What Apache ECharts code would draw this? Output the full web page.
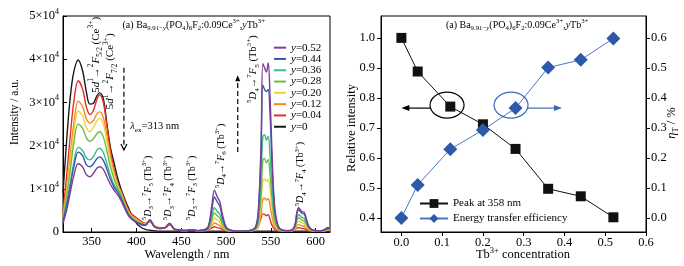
<!DOCTYPE html>
<html>
<head>
<meta charset="utf-8">
<script src="https://cdn.jsdelivr.net/npm/echarts@6/dist/echarts.min.js"></script>
<style>
  html, body { margin: 0; padding: 0; background: #fff; }
  #main { width: 684px; height: 266px; }
</style>
</head>
<body>
<div id="main"></div>
<script>
// emission spectra (intensity in units of 1e4)
var wavelength = [318, 322, 326, 330, 335, 340, 344, 348, 352, 356,
  359, 363, 367, 371, 375, 379, 383, 387, 391, 395,
  400, 405, 410, 415, 420, 426, 432, 437, 442, 448,
  455, 461, 468, 475, 480, 484, 487, 490, 493, 496,
  500, 505, 512, 520, 528, 533, 536, 539, 541, 543,
  545, 547, 549, 551, 554, 558, 563, 569, 574, 577,
  579, 581, 583, 585, 587, 589, 592, 596, 601, 606,
  610, 613, 616]
var specY000 = [0.9, 2.1, 3.1, 3.7, 3.98, 3.72, 3.25, 2.96, 2.98, 3.16,
  3.22, 3.08, 2.5, 1.95, 1.6, 1.25, 0.98, 0.76, 0.56, 0.38,
  0.2, 0.11, 0.06, 0.04, 0.03, 0.02, 0.02, 0.02, 0.02, 0.02,
  0.02, 0.02, 0.02, 0.02, 0.02, 0.02, 0.02, 0.02, 0.02, 0.02,
  0.02, 0.02, 0.02, 0.02, 0.02, 0.02, 0.02, 0.02, 0.02, 0.02,
  0.02, 0.02, 0.02, 0.02, 0.02, 0.02, 0.02, 0.02, 0.02, 0.02,
  0.02, 0.02, 0.02, 0.02, 0.02, 0.02, 0.02, 0.02, 0.02, 0.02,
  0.02, 0.02, 0.02]
var specY004 = [0.47, 1.3, 2.2, 3.0, 3.5, 3.3, 2.9, 2.72, 2.82, 3.08,
  3.17, 3.0, 2.45, 1.88, 1.45, 1.13, 0.93, 0.72, 0.52, 0.41,
  0.33, 0.25, 0.2, 0.24, 0.14, 0.1, 0.1, 0.16, 0.08, 0.05,
  0.04, 0.05, 0.03, 0.03, 0.05, 0.09, 0.12, 0.1, 0.09, 0.06,
  0.03, 0.02, 0.02, 0.02, 0.03, 0.06, 0.15, 0.32, 0.42, 0.41,
  0.38, 0.4, 0.3, 0.17, 0.07, 0.03, 0.02, 0.02, 0.03, 0.06,
  0.09, 0.1, 0.09, 0.08, 0.08, 0.06, 0.03, 0.02, 0.02, 0.02,
  0.03, 0.04, 0.04]
var specY012 = [0.38, 1.0, 1.75, 2.5, 3.03, 2.9, 2.62, 2.52, 2.58, 2.74,
  2.78, 2.65, 2.22, 1.75, 1.38, 1.1, 0.9, 0.68, 0.48, 0.37,
  0.29, 0.22, 0.19, 0.27, 0.14, 0.09, 0.1, 0.18, 0.07, 0.04,
  0.03, 0.05, 0.03, 0.03, 0.05, 0.14, 0.21, 0.18, 0.15, 0.09,
  0.04, 0.02, 0.02, 0.02, 0.03, 0.05, 0.11, 0.41, 0.76, 0.78,
  0.74, 0.77, 0.63, 0.4, 0.13, 0.05, 0.02, 0.02, 0.03, 0.06,
  0.14, 0.17, 0.16, 0.14, 0.14, 0.1, 0.05, 0.03, 0.02, 0.02,
  0.03, 0.04, 0.05]
var specY020 = [0.33, 0.9, 1.6, 2.3, 2.8, 2.68, 2.42, 2.32, 2.42, 2.58,
  2.63, 2.5, 2.1, 1.66, 1.33, 1.07, 0.88, 0.65, 0.46, 0.35,
  0.27, 0.21, 0.18, 0.29, 0.14, 0.09, 0.11, 0.2, 0.07, 0.04,
  0.03, 0.05, 0.03, 0.04, 0.06, 0.2, 0.32, 0.28, 0.23, 0.13,
  0.05, 0.03, 0.02, 0.02, 0.03, 0.05, 0.16, 0.64, 1.2, 1.23,
  1.17, 1.22, 1.0, 0.62, 0.21, 0.06, 0.03, 0.02, 0.03, 0.08,
  0.2, 0.25, 0.23, 0.21, 0.2, 0.15, 0.07, 0.03, 0.02, 0.02,
  0.03, 0.05, 0.06]
var specY028 = [0.3, 0.8, 1.4, 2.05, 2.5, 2.4, 2.18, 2.1, 2.16, 2.28,
  2.32, 2.2, 1.88, 1.5, 1.23, 1.02, 0.84, 0.62, 0.44, 0.33,
  0.25, 0.2, 0.17, 0.27, 0.13, 0.09, 0.1, 0.19, 0.07, 0.04,
  0.03, 0.05, 0.03, 0.04, 0.07, 0.28, 0.44, 0.38, 0.32, 0.18,
  0.06, 0.03, 0.02, 0.02, 0.03, 0.07, 0.22, 0.87, 1.65, 1.7,
  1.6, 1.68, 1.36, 0.85, 0.28, 0.08, 0.03, 0.02, 0.04, 0.11,
  0.27, 0.33, 0.3, 0.27, 0.26, 0.2, 0.09, 0.04, 0.02, 0.02,
  0.04, 0.06, 0.07]
var specY036 = [0.28, 0.65, 1.1, 1.6, 1.96, 1.88, 1.72, 1.67, 1.75, 1.9,
  1.94, 1.84, 1.58, 1.3, 1.1, 0.96, 0.8, 0.6, 0.42, 0.31,
  0.24, 0.19, 0.17, 0.28, 0.13, 0.09, 0.1, 0.2, 0.07, 0.04,
  0.03, 0.05, 0.03, 0.04, 0.08, 0.35, 0.56, 0.48, 0.41, 0.23,
  0.08, 0.03, 0.02, 0.02, 0.03, 0.08, 0.3, 1.15, 2.2, 2.25,
  2.12, 2.22, 1.8, 1.13, 0.37, 0.1, 0.03, 0.03, 0.04, 0.13,
  0.32, 0.4, 0.37, 0.33, 0.32, 0.24, 0.1, 0.04, 0.03, 0.03,
  0.04, 0.07, 0.08]
var specY044 = [0.25, 0.6, 1.05, 1.5, 1.85, 1.76, 1.56, 1.51, 1.58, 1.7,
  1.74, 1.66, 1.45, 1.22, 1.04, 0.92, 0.77, 0.58, 0.4, 0.3,
  0.23, 0.18, 0.16, 0.28, 0.12, 0.08, 0.1, 0.2, 0.07, 0.04,
  0.03, 0.05, 0.03, 0.04, 0.1, 0.5, 0.81, 0.7, 0.6, 0.33,
  0.1, 0.04, 0.02, 0.02, 0.04, 0.1, 0.42, 1.75, 3.4, 3.3,
  3.25, 3.3, 2.75, 1.72, 0.55, 0.13, 0.04, 0.03, 0.05, 0.16,
  0.42, 0.52, 0.47, 0.43, 0.42, 0.32, 0.13, 0.05, 0.03, 0.03,
  0.05, 0.08, 0.09]
var specY052 = [0.2, 0.5, 0.9, 1.3, 1.58, 1.5, 1.33, 1.28, 1.36, 1.48,
  1.51, 1.45, 1.28, 1.1, 0.97, 0.86, 0.72, 0.54, 0.38, 0.29,
  0.22, 0.17, 0.15, 0.27, 0.12, 0.08, 0.1, 0.2, 0.07, 0.04,
  0.03, 0.05, 0.03, 0.05, 0.12, 0.6, 0.97, 0.82, 0.7, 0.4,
  0.12, 0.04, 0.02, 0.02, 0.04, 0.12, 0.5, 2.0, 3.9, 3.8,
  3.7, 3.92, 3.2, 2.0, 0.65, 0.15, 0.04, 0.03, 0.05, 0.18,
  0.45, 0.56, 0.51, 0.47, 0.46, 0.35, 0.15, 0.05, 0.03, 0.03,
  0.06, 0.1, 0.1]
var wlTicks = [350, 400, 450, 500, 550, 600]

// right panel
var tbConc = [0, 0.04, 0.12, 0.20, 0.28, 0.36, 0.44, 0.52]
var peak358 = [1.0, 0.888, 0.771, 0.712, 0.630, 0.497, 0.472, 0.402]
var transferEff = [0.0, 0.110, 0.229, 0.293, 0.366, 0.501, 0.527, 0.598]
var concTicks = [0, 0.1, 0.2, 0.3, 0.4, 0.5, 0.6]
var relTicks = [0.4, 0.5, 0.6, 0.7, 0.8, 0.9, 1.0]
var etaTicks = [0, 0.1, 0.2, 0.3, 0.4, 0.5, 0.6]

var FF = 'Liberation Serif'
var spectra = [
  { name: 'y=0', color: '#1a1a1a', values: specY000 },
  { name: 'y=0.04', color: '#e53027', values: specY004 },
  { name: 'y=0.12', color: '#f5891f', values: specY012 },
  { name: 'y=0.20', color: '#f1d339', values: specY020 },
  { name: 'y=0.28', color: '#6dbe45', values: specY028 },
  { name: 'y=0.36', color: '#3dbd82', values: specY036 },
  { name: 'y=0.44', color: '#3757b0', values: specY044 },
  { name: 'y=0.52', color: '#7f3c98', values: specY052 }
]

function rich (size) {
  return {
    i: { fontStyle: 'italic', fontSize: size, fontFamily: FF, lineHeight: size * 1.4 },
    sub: { fontSize: size * 0.68, fontFamily: FF, verticalAlign: 'bottom', lineHeight: size * 0.8 },
    isub: { fontStyle: 'italic', fontSize: size * 0.68, fontFamily: FF, verticalAlign: 'bottom', lineHeight: size * 0.8 },
    sup: { fontSize: size * 0.68, fontFamily: FF, verticalAlign: 'top', lineHeight: size * 0.8 }
  }
}

var axisText = { color: '#000', fontFamily: FF, fontSize: 12.5 }
var chart = echarts.init(document.getElementById('main'))

var series = spectra.map(function (s) {
  return {
    type: 'line',
    name: s.name,
    xAxisIndex: 0,
    yAxisIndex: 0,
    data: wavelength.map(function (w, i) { return [w, s.values[i]] }),
    symbol: 'none',
    smooth: 0.35,
    lineStyle: { width: 1.4, color: s.color },
    itemStyle: { color: s.color }
  }
})
series.push({
  type: 'line',
  name: 'Peak at 358 nm',
  xAxisIndex: 1,
  yAxisIndex: 1,
  data: tbConc.map(function (c, i) { return [c, peak358[i]] }),
  symbol: 'rect',
  symbolSize: 10,
  lineStyle: { width: 1, color: '#111' },
  itemStyle: { color: '#111' }
})
series.push({
  type: 'line',
  name: 'Energy transfer efficiency',
  xAxisIndex: 1,
  yAxisIndex: 2,
  data: tbConc.map(function (c, i) { return [c, transferEff[i]] }),
  symbol: 'diamond',
  symbolSize: 14,
  lineStyle: { width: 1, color: '#4a78c8' },
  itemStyle: { color: '#2d5aa8' }
})

var option = {
  animation: false,
  backgroundColor: '#fff',
  grid: [
    { left: 63, top: 16, width: 267, height: 216, show: true, borderColor: '#000', borderWidth: 1 },
    { left: 381, top: 16, width: 265, height: 216, show: true, borderColor: '#000', borderWidth: 1 }
  ],
  legend: [{
    data: spectra.map(function (s) { return s.name }).reverse(),
    orient: 'vertical',
    left: 269,
    top: 37,
    icon: 'rect',
    itemWidth: 12,
    itemHeight: 2,
    itemGap: 0,
    selectedMode: false,
    formatter: function (name) { return '{i|y}' + name.slice(1) },
    textStyle: { color: '#000', fontFamily: FF, fontSize: 11, lineHeight: 11.3, rich: { i: { fontStyle: 'italic', fontFamily: FF, fontSize: 11 } } }
  }, {
    data: ['Peak at 358 nm', 'Energy transfer efficiency'],
    orient: 'vertical',
    left: 414,
    top: 193,
    itemWidth: 28,
    itemHeight: 11,
    itemGap: 4,
    selectedMode: false,
    textStyle: { color: '#000', fontFamily: FF, fontSize: 11 }
  }],
  xAxis: [{
    type: 'value',
    gridIndex: 0,
    min: 318,
    max: 616,
    axisLine: { onZero: false, lineStyle: { color: '#000' } },
    axisTick: { inside: true, length: 4, customValues: wlTicks, lineStyle: { color: '#000' } },
    axisLabel: Object.assign({ customValues: wlTicks, margin: 3 }, axisText),
    splitLine: { show: false }
  }, {
    type: 'value',
    gridIndex: 1,
    min: -0.05,
    max: 0.6,
    axisLine: { onZero: false, lineStyle: { color: '#000' } },
    axisTick: { length: 4, customValues: concTicks, lineStyle: { color: '#000' } },
    axisLabel: Object.assign({ customValues: concTicks, margin: 4, formatter: function (v) { return v.toFixed(1) } }, axisText),
    splitLine: { show: false }
  }],
  yAxis: [{
    type: 'value',
    gridIndex: 0,
    min: 0,
    max: 5,
    interval: 1,
    axisLine: { show: true, onZero: false, lineStyle: { color: '#000' } },
    axisTick: { show: true, inside: true, length: 4, lineStyle: { color: '#000' } },
    axisLabel: Object.assign({
      margin: 4,
      lineHeight: 16,
      formatter: function (v) { return v === 0 ? '0' : v + '×10{s|4}' },
      rich: { s: { fontSize: 8, fontFamily: FF, verticalAlign: 'top', lineHeight: 9 } }
    }, axisText),
    splitLine: { show: false }
  }, {
    type: 'value',
    gridIndex: 1,
    position: 'left',
    min: 0.353,
    max: 1.073,
    axisLine: { show: true, onZero: false, lineStyle: { color: '#000' } },
    axisTick: { show: true, length: 4, customValues: relTicks, lineStyle: { color: '#000' } },
    axisLabel: Object.assign({ customValues: relTicks, margin: 6, formatter: function (v) { return v.toFixed(1) } }, axisText),
    splitLine: { show: false }
  }, {
    type: 'value',
    gridIndex: 1,
    position: 'right',
    min: -0.047,
    max: 0.673,
    axisLine: { show: true, onZero: false, lineStyle: { color: '#000' } },
    axisTick: { show: true, length: 4, customValues: etaTicks, lineStyle: { color: '#000' } },
    axisLabel: Object.assign({ customValues: etaTicks, margin: 5, formatter: function (v) { return v.toFixed(1) } }, axisText),
    splitLine: { show: false }
  }],
  series: series
}

chart.setOption(option)

// annotations
function px0 (w, v) { return chart.convertToPixel({ gridIndex: 0 }, [w, v]) }
function px1 (c, r) { return chart.convertToPixel({ gridIndex: 1 }, [c, r]) }
function label (p, text, size, rot, align, color) {
  return {
    type: 'text',
    x: p[0],
    y: p[1],
    rotation: rot || 0,
    silent: true,
    z: 50,
    style: {
      text: text,
      fill: color || '#000',
      fontSize: size,
      fontFamily: FF,
      lineHeight: size * 1.4,
      align: align || 'center',
      verticalAlign: 'middle',
      rich: rich(size)
    }
  }
}
var UP = Math.PI / 2
var g = []
var ttl = '(a) Ba{sub|9.91−}{isub|y}(PO{sub|4}){sub|6}F{sub|2}:0.09Ce{sup|3+},{i|y}Tb{sup|3+}'
g.push(label(px0(464, 4.79), ttl, 10))
g.push(label(px1(0.284, 1.043), ttl, 10))

g.push(label(px0(354.5, 4.1), '5{i|d}{sup|1}→{sup|2}{i|F}{sub|5/2} (Ce{sup|3+})', 11, UP))
g.push(label(px0(371, 3.72), '5{i|d}{sup|1}→{sup|2}{i|F}{sub|7/2} (Ce{sup|3+})', 11, UP))
g.push(label(px0(393, 2.45), '{i|λ}{sub|ex}=313 nm', 10.5, 0, 'left'))
g.push(label(px0(530, 3.77), '{sup|5}{i|D}{sub|4}→{sup|7}{i|F}{sub|5} (Tb{sup|3+})', 10.5, UP))
g.push(label(px0(413, 1.02), '{sup|5}{i|D}{sub|3}→{sup|7}{i|F}{sub|5} (Tb{sup|3+})', 10, UP))
g.push(label(px0(435.5, 1.02), '{sup|5}{i|D}{sub|3}→{sup|7}{i|F}{sub|4} (Tb{sup|3+})', 10, UP))
g.push(label(px0(462, 1.02), '{sup|5}{i|D}{sub|3}→{sup|7}{i|F}{sub|3} (Tb{sup|3+})', 10, UP))
g.push(label(px0(494.5, 1.76), '{sup|5}{i|D}{sub|4}→{sup|7}{i|F}{sub|6} (Tb{sup|3+})', 10, UP))
g.push(label(px0(583, 1.34), '{sup|5}{i|D}{sub|4}→{sup|7}{i|F}{sub|4} (Tb{sup|3+})', 10, UP))

// dashed arrows (Ce emission falls, Tb emission rises)
var a1 = px0(386, 3.8), a2 = px0(386, 1.9)
g.push({ type: 'line', silent: true, shape: { x1: a1[0], y1: a1[1], x2: a2[0], y2: a2[1] }, style: { stroke: '#000', lineWidth: 1.2, lineDash: [5, 3] } })
g.push({ type: 'polyline', silent: true, shape: { points: [[a2[0] - 3, a2[1] - 6], [a2[0], a2[1]], [a2[0] + 3, a2[1] - 6]] }, style: { stroke: '#000', lineWidth: 1.2, fill: 'none' } })
var b1 = px0(513, 1.85), b2 = px0(513, 3.63)
g.push({ type: 'line', silent: true, shape: { x1: b1[0], y1: b1[1], x2: b2[0], y2: b2[1] + 5 }, style: { stroke: '#000', lineWidth: 1.2, lineDash: [5, 3] } })
g.push({ type: 'polygon', silent: true, shape: { points: [[b2[0] - 2.5, b2[1] + 6], [b2[0], b2[1]], [b2[0] + 2.5, b2[1] + 6]] }, style: { fill: '#000' } })

// ellipses and arrows in right panel
var e1 = px1(0.112, 0.776), e2 = px1(0.269, 0.776)
var ay = px1(0, 0.766)[1]
var lx = px1(0.0, 0.766)[0], rx = px1(0.394, 0.766)[0]
g.push({ type: 'ellipse', silent: true, z: 50, shape: { cx: e1[0], cy: e1[1], rx: 17, ry: 13 }, style: { fill: 'none', stroke: '#000', lineWidth: 1.2 } })
g.push({ type: 'ellipse', silent: true, z: 50, shape: { cx: e2[0], cy: e2[1], rx: 17, ry: 13 }, style: { fill: 'none', stroke: '#3a68b8', lineWidth: 1.2 } })
g.push({ type: 'line', silent: true, shape: { x1: e1[0] - 17, y1: ay, x2: lx + 6, y2: ay }, style: { stroke: '#000', lineWidth: 1.2 } })
g.push({ type: 'polygon', silent: true, shape: { points: [[lx, ay], [lx + 8, ay - 3], [lx + 8, ay + 3]] }, style: { fill: '#000' } })
g.push({ type: 'line', silent: true, shape: { x1: e2[0] + 17, y1: ay, x2: rx - 6, y2: ay }, style: { stroke: '#3a68b8', lineWidth: 1.2 } })
g.push({ type: 'polygon', silent: true, shape: { points: [[rx, ay], [rx - 8, ay - 3], [rx - 8, ay + 3]] }, style: { fill: '#3a68b8' } })

// axis titles
g.push(label([15, 112], 'Intensity / a.u.', 11.5, UP))
g.push(label([187, 255], 'Wavelength / nm', 12.5))
g.push(label([352, 128], 'Relative intensity', 12.5, UP))
g.push(label([523, 255], 'Tb{sup|3+} concentration', 12.5))
g.push(label([672, 123], '{i|η}{sub|T} / %', 12.5, UP))

chart.setOption({ graphic: g })
</script>
</body>
</html>
